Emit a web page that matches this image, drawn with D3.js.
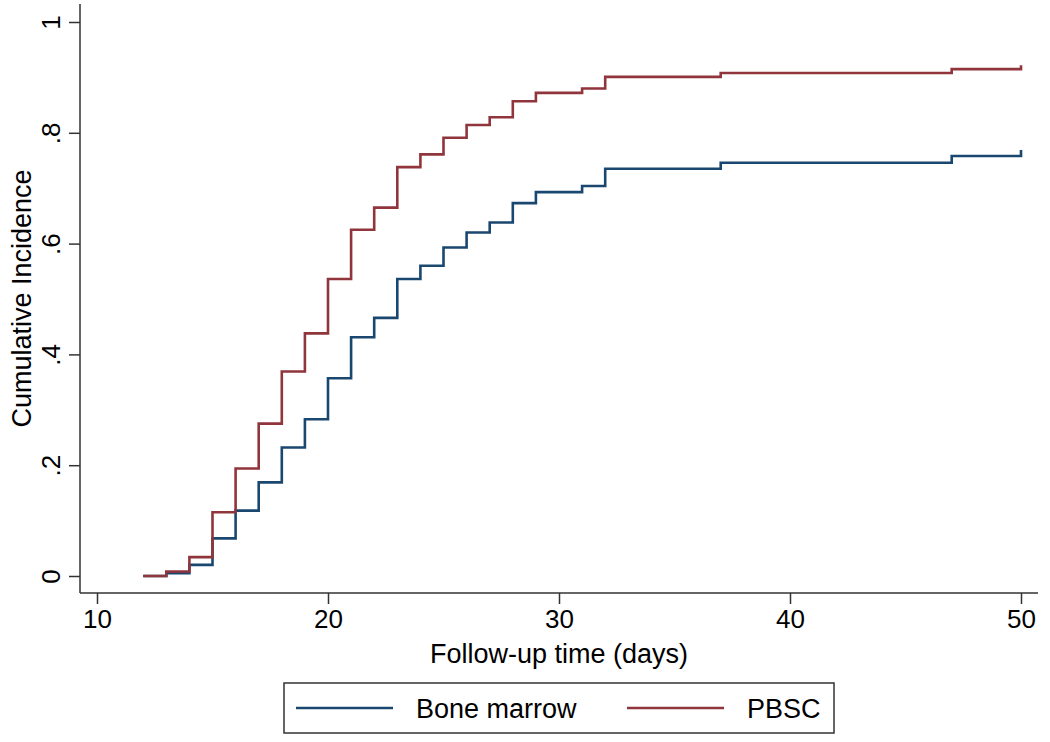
<!DOCTYPE html>
<html><head><meta charset="utf-8">
<script src="https://cdn.jsdelivr.net/npm/d3@7"></script>
<style>
html,body{margin:0;padding:0;background:#fff;}
text{font-family:Arial,"Liberation Sans",Helvetica,sans-serif;fill:#000;}
</style></head>
<body>
<svg id="chart" width="1050" height="742"></svg>
<script>
// Data
const times = [12,13,14,15,16,17,18,19,20,21,22,23,24,25,26,27,28,29,31,32,37,47,50];
const boneMarrow = [0,0.005,0.020,0.068,0.118,0.169,0.232,0.283,0.357,0.431,0.466,0.536,0.560,0.593,0.620,0.638,0.673,0.693,0.704,0.735,0.746,0.758,0.769];
const pbsc = [0,0.008,0.034,0.115,0.194,0.275,0.369,0.438,0.536,0.625,0.665,0.738,0.761,0.791,0.814,0.828,0.857,0.872,0.880,0.901,0.908,0.915,0.922];
const seriesNames = ["Bone marrow","PBSC"];
const xTicks = [10,20,30,40,50];
const yTicks = [0,0.2,0.4,0.6,0.8,1];
const yTickLabels = ["0",".2",".4",".6",".8","1"];
const xTitle = "Follow-up time (days)";
const yTitle = "Cumulative Incidence";

const colors = ["#1a476f","#90353b"];
const svg = d3.select("#chart");

const plot = {left:80, right:1038, top:4, bottom:593};
const x = d3.scaleLinear().domain([10,50]).range([97,1021]);
const y = d3.scaleLinear().domain([0,1]).range([576,22]);

const axisColor = "#333";
// axis lines
svg.append("line").attr("x1",plot.left).attr("x2",plot.left).attr("y1",plot.top).attr("y2",plot.bottom)
  .attr("stroke",axisColor).attr("stroke-width",1.5);
svg.append("line").attr("x1",plot.left).attr("x2",plot.right).attr("y1",plot.bottom).attr("y2",plot.bottom)
  .attr("stroke",axisColor).attr("stroke-width",1.5);

// x axis
const gx = svg.append("g").attr("transform",`translate(0,${plot.bottom})`)
  .call(d3.axisBottom(x).tickValues(xTicks).tickSize(11).tickPadding(6).tickFormat(d3.format("d")));
gx.select(".domain").remove();
gx.selectAll(".tick line").attr("stroke",axisColor).attr("stroke-width",1.5);
gx.selectAll(".tick text").attr("font-size",26).attr("font-family","Arial, 'Liberation Sans', sans-serif").attr("fill","#000");

// y axis
const gy = svg.append("g").attr("transform",`translate(${plot.left},0)`)
  .call(d3.axisLeft(y).tickValues(yTicks).tickSize(11).tickFormat((d,i)=>yTickLabels[i]));
gy.select(".domain").remove();
gy.selectAll(".tick line").attr("stroke",axisColor).attr("stroke-width",1.5);
gy.selectAll(".tick text")
  .attr("font-size",26).attr("font-family","Arial, 'Liberation Sans', sans-serif").attr("fill","#000")
  .attr("transform","rotate(-90)").attr("x",0).attr("y",-20).attr("dy",0).attr("text-anchor","middle");

// titles
svg.append("text").attr("x",(plot.left+plot.right)/2).attr("y",663).attr("text-anchor","middle")
  .attr("font-size",27).text(xTitle);
svg.append("text").attr("transform",`translate(31,${(plot.top+plot.bottom)/2}) rotate(-90)`)
  .attr("text-anchor","middle").attr("font-size",27).text(yTitle);

// lines
const line = d3.line().x(d=>x(d[0])).y(d=>y(d[1])).curve(d3.curveStepAfter);
[boneMarrow,pbsc].forEach((vals,i)=>{
  const pts = times.map((t,j)=>[t,vals[j]]);
  svg.append("path").datum(pts).attr("d",line).attr("fill","none")
    .attr("stroke",colors[i]).attr("stroke-width",2.6).attr("stroke-linejoin","miter");
});

// legend
const leg = svg.append("g");
leg.append("rect").attr("x",284).attr("y",683).attr("width",550).attr("height",50)
  .attr("fill","#fff").attr("stroke",axisColor).attr("stroke-width",1.5);
const legItems = [{x:296},{x:627}];
seriesNames.forEach((n,i)=>{
  const lx = legItems[i].x;
  leg.append("line").attr("x1",lx).attr("x2",lx+97).attr("y1",708).attr("y2",708)
    .attr("stroke",colors[i]).attr("stroke-width",2.6);
  leg.append("text").attr("x",lx+120).attr("y",718).attr("font-size",27).text(n);
});
</script>
</body></html>
